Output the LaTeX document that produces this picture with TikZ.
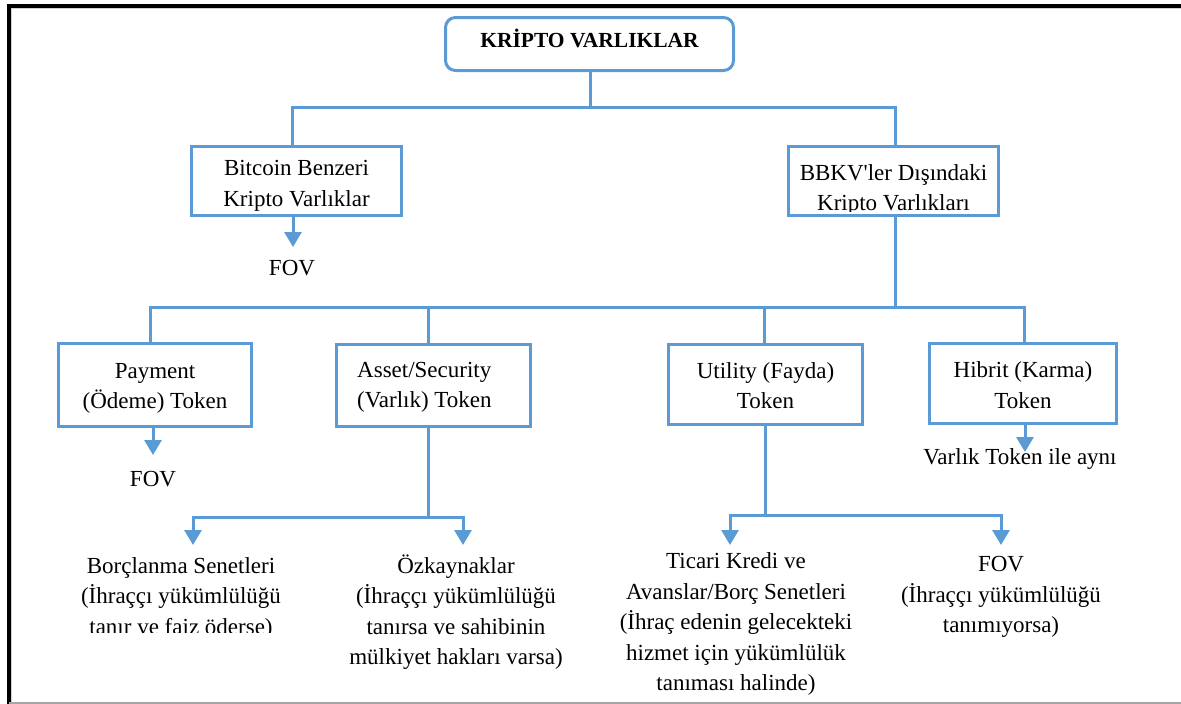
\documentclass[tikz,border=0pt]{standalone}
\usepackage{fontspec}
\setmainfont{Liberation Serif}
\usetikzlibrary{arrows.meta}
\definecolor{lineblue}{HTML}{5B9BD5}
\newcommand\txtfont{\fontsize{23}{30.5}\selectfont}
\newcommand\ttlfont{\fontsize{21.5}{26}\selectfont\bfseries}
\begin{document}
\begin{tikzpicture}[x=1pt,y=-1pt,
  box/.style={draw=lineblue,line width=3pt,fill=white,inner sep=0pt},
  topbox/.style={box,rounded corners=10pt,font=\ttlfont},
  txt/.style={inner sep=0pt,align=center,font=\txtfont},
  conn/.style={draw=lineblue,line width=3pt},
  arr/.style={conn,-{Triangle[width=17pt,length=15pt]}}]
\useasboundingbox (0,0) rectangle (1181,704);

% page frame
\draw[gray!35,line width=0.8pt] (11.5,702) -- (11.5,8.6) -- (1181,8.6);
\draw[line width=4pt] (7,6) -- (1181,6);
\draw[line width=3.5pt] (9,4) -- (9,704);
\draw[gray!70,line width=1.2pt] (9,703) -- (1181,703);

% boxes
\node[topbox,minimum width=288pt,minimum height=53pt,text depth=11pt] (root) at (589.5,44) {KRİPTO VARLIKLAR};
\node[box,minimum width=210pt,minimum height=69pt] (btc) at (296.5,181) {};
\node[box,minimum width=210pt,minimum height=69pt] (bbkv) at (893.5,181) {};
\node[box,minimum width=193pt,minimum height=83pt] (pay) at (155,385) {};
\node[box,minimum width=194pt,minimum height=82pt] (asset) at (433.5,385.5) {};
\node[box,minimum width=194pt,minimum height=80pt] (util) at (765.5,384.5) {};
\node[box,minimum width=187pt,minimum height=80pt] (hib) at (1023,383.5) {};

% box captions
\node[txt] (btc-t) at ([yshift=-5pt]btc.center) {Bitcoin Benzeri\\Kripto Varlıklar};
\begin{scope}
  \clip ([xshift=2pt,yshift=-2pt]bbkv.north west) rectangle ([xshift=-2pt,yshift=6pt]bbkv.south east);
  \node[txt] (bbkv-t) at (893.5,190) {BBKV\textquotesingle ler Dışındaki\\Kripto Varlıkları};
\end{scope}
\node[txt] (pay-t) at ([yshift=-3.5pt]pay.center) {Payment\\(Ödeme) Token};
\node[txt,align=left,anchor=west] (asset-t) at ([xshift=22pt,yshift=-2pt]asset.west) {Asset/Security\\(Varlık) Token};
\node[txt] (util-t) at ([yshift=-1pt]util.center) {Utility (Fayda)\\Token};
\node[txt] (hib-t) at ([yshift=-1.5pt]hib.center) {Hibrit (Karma)\\Token};

% leaf texts
\node[txt] (fovA) at (292,268) {FOV};
\node[txt] (fovB) at (153,479) {FOV};
\node[txt] (same) at (1020,459) {Varlık Token ile aynı};
\begin{scope}
  \clip (60,540) rectangle (310,632);
  \node[txt] (borc) at (181,598) {Borçlanma Senetleri\\(İhraççı yükümlülüğü\\tanır ve faiz öderse)};
\end{scope}
\node[txt] (ozk) at (456,612) {Özkaynaklar\\(İhraççı yükümlülüğü\\tanırsa ve sahibinin\\mülkiyet hakları varsa)};
\node[txt] (tic) at (736,624) {Ticari Kredi ve\\Avanslar/Borç Senetleri\\(İhraç edenin gelecekteki\\hizmet için yükümlülük\\tanıması halinde)};
\node[txt] (fovC) at (1001,597) {FOV\\(İhraççı yükümlülüğü\\tanımıyorsa)};

% first level connectors
\coordinate (j0) at (590,107);
\coordinate (jL) at (292,107);
\coordinate (jR) at (895,107);
\draw[conn] (j0 |- root.south) -- (j0);
\draw[conn] (jL |- btc.north) -- (jL) -- (jR) -- (jR |- bbkv.north);

% second level connectors
\coordinate (kP) at (150,307);
\coordinate (kA) at (428,307);
\coordinate (kU) at (764,307);
\coordinate (kH) at (1024,307);
\draw[conn] (jR |- bbkv.south) -- (jR |- kP);
\draw[conn] (kP |- pay.north) -- (kP) -- (kH) -- (kH |- hib.north);
\draw[conn] (kA) -- (kA |- asset.north);
\draw[conn] (kU) -- (kU |- util.north);

% single arrows
\coordinate (tA) at (293,247);
\coordinate (tB) at (153,455);
\coordinate (tH) at (1025,452);
\draw[arr] (tA |- btc.south) -- (tA);
\draw[arr] (tB |- pay.south) -- (tB);
\draw[arr] (tH |- hib.south) -- (tH);

% asset token split
\coordinate (mA) at (428,517);
\coordinate (aL) at (193,545);
\coordinate (aR) at (463,545);
\draw[conn] (mA |- asset.south) -- (mA);
\draw[arr] (mA) -| (aL);
\draw[arr] (mA) -| (aR);

% utility token split
\coordinate (mU) at (765,515);
\coordinate (uL) at (730,545);
\coordinate (uR) at (1001,545);
\draw[conn] (mU |- util.south) -- (mU);
\draw[arr] (mU) -| (uL);
\draw[arr] (mU) -| (uR);
\end{tikzpicture}
\end{document}
